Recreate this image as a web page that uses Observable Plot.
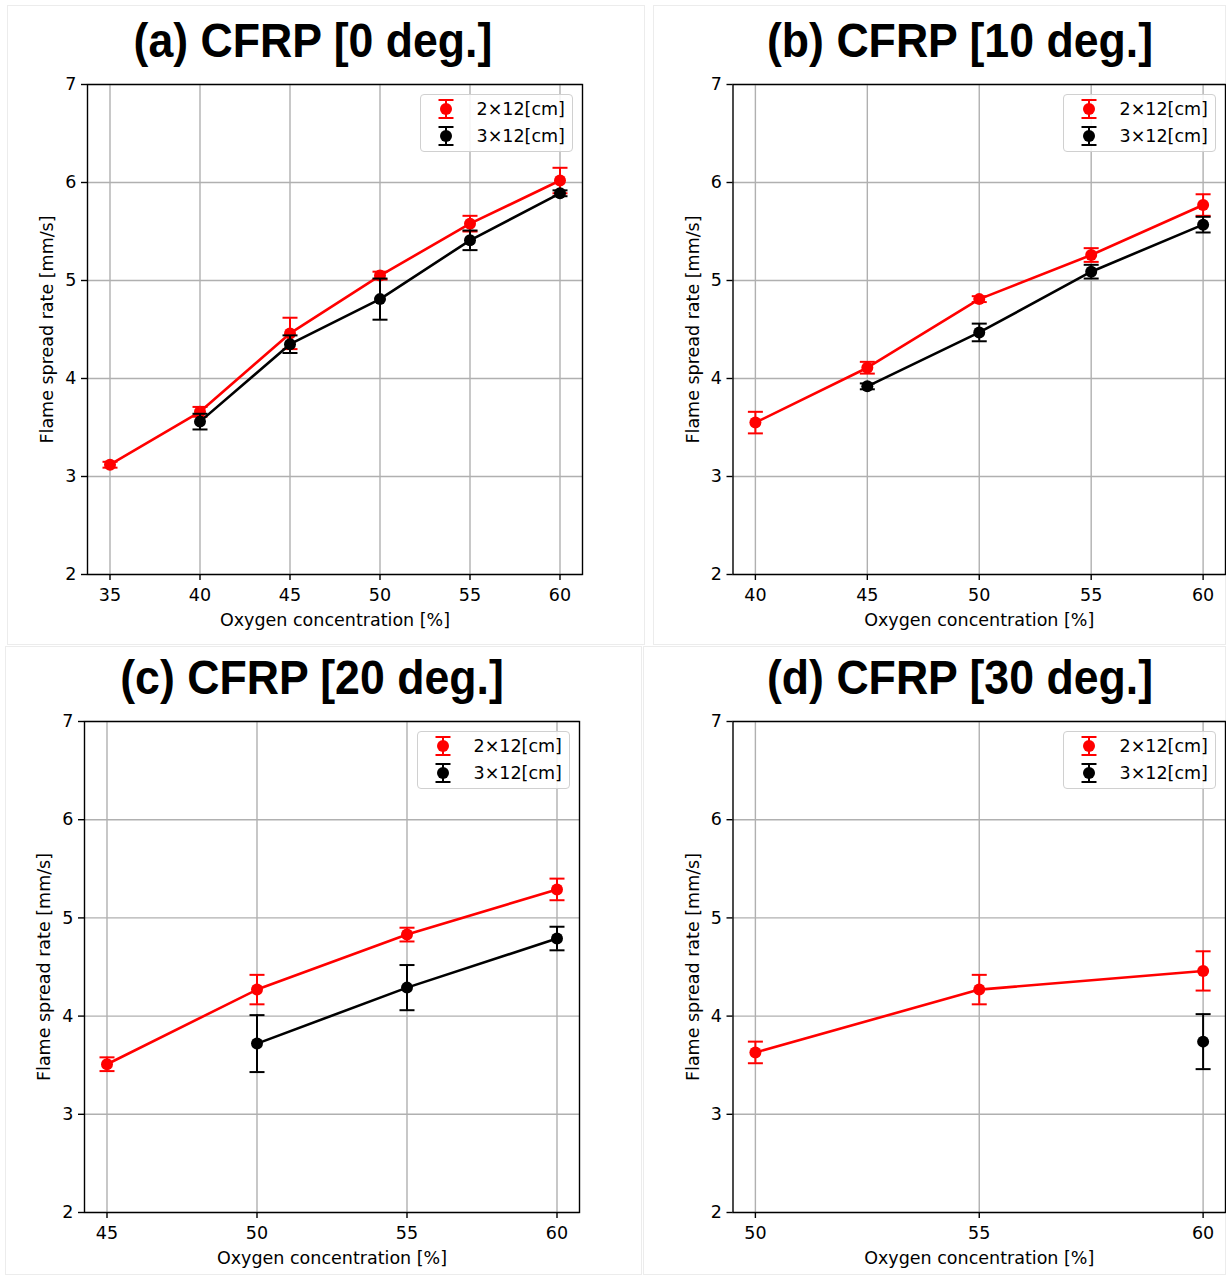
<!DOCTYPE html>
<html>
<head>
<meta charset="utf-8">
<script src="https://cdn.jsdelivr.net/npm/d3@7"></script>
<script src="https://cdn.jsdelivr.net/npm/@observablehq/plot@0.6"></script>
<style>
  html, body { margin: 0; padding: 0; background: #fff; }
  #root { position: relative; width: 1226px; height: 1275px; background: #fff; overflow: hidden; }
  .panel { position: absolute; }
  .legend { position: absolute; box-sizing: border-box; width: 153px; height: 58px; background: rgba(255,255,255,0.85);
            border: 1px solid #d0d0d0; border-radius: 4px; font-family: "DejaVu Sans"; font-size: 17.5px; color: #000; }
  .legend .row { position: absolute; left: 0; height: 26px; display: flex; align-items: center; }
  .legend svg { position: absolute; left: 10px; top: 0; }
  .legend span { position: absolute; left: 56px; white-space: nowrap; line-height: 26px; }
</style>
</head>
<body>
<div id="root"></div>
<script>
// ---------------- data ----------------
const yTicks = [2, 3, 4, 5, 6, 7];
const seriesNames = ["2×12[cm]", "3×12[cm]"];
const seriesColors = ["#ff0000", "#000000"];

// (a) CFRP [0 deg.]
const o2A = [35, 40, 45, 50, 55, 60];
const redA = [3.12, 3.66, 4.46, 5.05, 5.58, 6.02];
const redErrA = [0.03, 0.05, 0.16, 0.04, 0.08, 0.13];
const blkA = [null, 3.56, 4.35, 4.81, 5.41, 5.89];
const blkErrA = [null, 0.08, 0.09, 0.21, 0.10, 0.03];

// (b) CFRP [10 deg.]
const o2B = [40, 45, 50, 55, 60];
const redB = [3.55, 4.11, 4.81, 5.26, 5.77];
const redErrB = [0.11, 0.06, 0.03, 0.07, 0.11];
const blkB = [null, 3.92, 4.47, 5.09, 5.57];
const blkErrB = [null, 0.03, 0.09, 0.07, 0.08];

// (c) CFRP [20 deg.]
const o2C = [45, 50, 55, 60];
const redC = [3.51, 4.27, 4.83, 5.29];
const redErrC = [0.07, 0.15, 0.07, 0.11];
const blkC = [null, 3.72, 4.29, 4.79];
const blkErrC = [null, 0.29, 0.23, 0.12];

// (d) CFRP [30 deg.]
const o2D = [50, 55, 60];
const redD = [3.63, 4.27, 4.46];
const redErrD = [0.11, 0.15, 0.20];
const blkD = [null, null, 3.74];
const blkErrD = [null, null, 0.28];

const titles = ["(a) CFRP [0 deg.]", "(b) CFRP [10 deg.]", "(c) CFRP [20 deg.]", "(d) CFRP [30 deg.]"];
const xLabel = "Oxygen concentration [%]";
const yLabel = "Flame spread rate [mm/s]";

// ---------------- layout ----------------
const panels = [
  {title: titles[0], o2: o2A, red: redA, redErr: redErrA, blk: blkA, blkErr: blkErrA,
   box: [0, 0, 645, 645], frame: [87, 84, 582, 574], xTicks: [35, 40, 45, 50, 55, 60], pad: 0.05,
   titleX: 313, titleY: 57, border: [7, 5, 645, 645]},
  {title: titles[1], o2: o2B, red: redB, redErr: redErrB, blk: blkB, blkErr: blkErrB,
   box: [645, 0, 581, 645], frame: [732.5, 84, 1225, 574], xTicks: [40, 45, 50, 55, 60], pad: 0.05,
   titleX: 960, titleY: 57, border: [653, 5, 1226, 645]},
  {title: titles[2], o2: o2C, red: redC, redErr: redErrC, blk: blkC, blkErr: blkErrC,
   box: [0, 645, 645, 630], frame: [84, 721, 579, 1212], xTicks: [45, 50, 55, 60], pad: 0.05,
   titleX: 312, titleY: 694, border: [5, 646, 642, 1275]},
  {title: titles[3], o2: o2D, red: redD, redErr: redErrD, blk: blkD, blkErr: blkErrD,
   box: [645, 645, 581, 630], frame: [732.5, 721, 1225, 1212], xTicks: [50, 55, 60], pad: 0.05,
   titleX: 960, titleY: 694, border: [643, 646, 1226, 1275]}
];

const capSym = { draw(ctx) { ctx.moveTo(-7.5, 0); ctx.lineTo(7.5, 0); } };

function rowsOf(xs, ys, es) {
  return xs.map((x, i) => ({x, y: ys[i], e: es[i]})).filter(d => d.y != null);
}

function seriesMarks(rows, color) {
  return [
    Plot.line(rows, {x: "x", y: "y", stroke: color, strokeWidth: 2.6}),
    Plot.ruleX(rows, {x: "x", y1: d => d.y - d.e, y2: d => d.y + d.e, stroke: color, strokeWidth: 2}),
    Plot.dot(rows, {x: "x", y: d => d.y - d.e, symbol: capSym, stroke: color, fill: "none", strokeWidth: 2}),
    Plot.dot(rows, {x: "x", y: d => d.y + d.e, symbol: capSym, stroke: color, fill: "none", strokeWidth: 2}),
    Plot.dot(rows, {x: "x", y: "y", r: 6, fill: color, stroke: "none"})
  ];
}

const root = document.getElementById("root");

// overlay for titles and faint panel borders
const overlay = d3.select(root).append("svg")
  .attr("width", 1226).attr("height", 1275)
  .style("position", "absolute").style("left", 0).style("top", 0);

panels.forEach(p => {
  const [bx, by, bw, bh] = p.box;
  const [fx0, fy0, fx1, fy1] = p.frame;
  const xmin = d3.min(p.o2), xmax = d3.max(p.o2);
  const m = (xmax - xmin) * p.pad;
  const redRows = rowsOf(p.o2, p.red, p.redErr);
  const blkRows = rowsOf(p.o2, p.blk, p.blkErr);

  const chart = Plot.plot({
    width: bw, height: bh,
    marginLeft: fx0 - bx, marginRight: bx + bw - fx1,
    marginTop: fy0 - by, marginBottom: by + bh - fy1,
    style: {fontFamily: "DejaVu Sans", fontSize: "17.5px", color: "#000", background: "transparent", overflow: "visible"},
    x: {domain: [xmin - m, xmax + m]},
    y: {domain: [2, 7]},
    marks: [
      Plot.gridX(p.xTicks, {stroke: "#b0b0b0", strokeOpacity: 1, strokeWidth: 1.4}),
      Plot.gridY(yTicks, {stroke: "#b0b0b0", strokeOpacity: 1, strokeWidth: 1.4}),
      Plot.axisX(p.xTicks, {tickSize: 6, tickPadding: 8, label: null, strokeWidth: 1.4, fontSize: 17.5, tickFormat: d => String(d)}),
      Plot.axisY(yTicks, {tickSize: 6, tickPadding: 5, label: null, strokeWidth: 1.4, fontSize: 17.5, tickFormat: d => String(d)}),
      ...seriesMarks(redRows, seriesColors[0]),
      ...seriesMarks(blkRows, seriesColors[1]),
      Plot.frame({stroke: "#000", strokeWidth: 1.4}),
      Plot.text([xLabel], {frameAnchor: "bottom", dy: 46, lineAnchor: "middle", textAnchor: "middle", fill: "#000", fontSize: 17.5}),
      Plot.text([yLabel], {frameAnchor: "left", dx: -40, rotate: -90, lineAnchor: "middle", textAnchor: "middle", fill: "#000", fontSize: 17.5})
    ]
  });
  chart.classList.add("panel");
  chart.style.left = bx + "px";
  chart.style.top = by + "px";
  root.appendChild(chart);

  // faint screenshot border
  const [l, t, r, b] = p.border;
  overlay.append("rect").attr("x", l + 0.5).attr("y", t + 0.5).attr("width", r - l - 1).attr("height", b - t - 1)
    .attr("fill", "none").attr("stroke", "#ececec").attr("stroke-width", 1);

  // title
  overlay.append("text")
    .attr("transform", `translate(${p.titleX},${p.titleY}) scale(0.93,1)`)
    .attr("text-anchor", "middle")
    .attr("font-family", "Liberation Sans, Arial, sans-serif")
    .attr("font-weight", "bold")
    .attr("font-size", 48)
    .attr("fill", "#000")
    .text(p.title);

  // legend (upper right)
  const lg = document.createElement("div");
  lg.className = "legend";
  lg.style.left = (fx1 - 9.5 - 153) + "px";
  lg.style.top = (fy0 + 9.5) + "px";
  seriesNames.forEach((name, i) => {
    const row = document.createElement("div");
    row.className = "row";
    row.style.top = (1 + i * 27) + "px";
    row.style.width = "151px";
    const c = seriesColors[i];
    row.innerHTML = `<svg width="30" height="26" viewBox="-15 -13 30 26">
        <line x1="0" y1="-9" x2="0" y2="9" stroke="${c}" stroke-width="2"/>
        <line x1="-7.5" y1="-9" x2="7.5" y2="-9" stroke="${c}" stroke-width="2"/>
        <line x1="-7.5" y1="9" x2="7.5" y2="9" stroke="${c}" stroke-width="2"/>
        <circle r="6" fill="${c}"/></svg><span>${name}</span>`;
    lg.appendChild(row);
  });
  root.appendChild(lg);
});
</script>
</body>
</html>
